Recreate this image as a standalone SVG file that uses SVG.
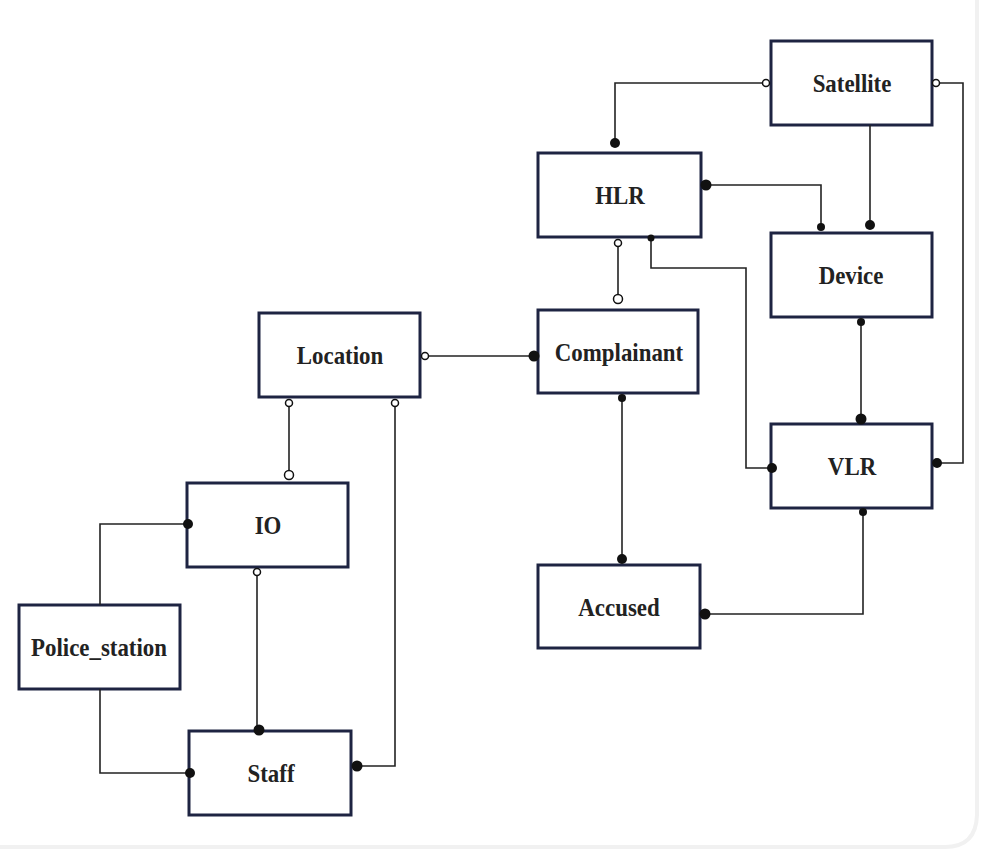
<svg xmlns="http://www.w3.org/2000/svg" width="983" height="854" viewBox="0 0 983 854">
<style>
.box{fill:#ffffff;stroke:#1e2442;stroke-width:3}
.lbl{font-family:"Liberation Serif","Times New Roman",serif;font-weight:bold;font-size:26px;fill:#222222;text-anchor:middle}
.ln{fill:none;stroke:#222222;stroke-width:1.6}
.dot{fill:#111111}
.oc{fill:#ffffff;stroke:#111111;stroke-width:1.5}
</style>
<rect x="0" y="0" width="983" height="854" fill="#ffffff"/>
<path d="M0 847 L945 847 Q976 847 977 815 L977 0" fill="none" stroke="#f1f1f1" stroke-width="4"/>
<g id="Satellite"><rect class="box" x="771" y="41" width="161" height="84"/><text class="lbl" transform="translate(852,92) scale(0.88,1)">Satellite</text></g>
<g id="HLR"><rect class="box" x="538" y="153" width="163" height="84"/><text class="lbl" transform="translate(620,204) scale(0.88,1)">HLR</text></g>
<g id="Device"><rect class="box" x="771" y="233" width="161" height="84"/><text class="lbl" transform="translate(851,284) scale(0.88,1)">Device</text></g>
<g id="VLR"><rect class="box" x="771" y="424" width="161" height="84"/><text class="lbl" transform="translate(852,475) scale(0.88,1)">VLR</text></g>
<g id="Location"><rect class="box" x="259" y="313" width="161" height="84"/><text class="lbl" transform="translate(340,364) scale(0.88,1)">Location</text></g>
<g id="Complainant"><rect class="box" x="538" y="310" width="160" height="83"/><text class="lbl" transform="translate(619,361) scale(0.88,1)">Complainant</text></g>
<g id="IO"><rect class="box" x="187" y="483" width="161" height="84"/><text class="lbl" transform="translate(268,534) scale(0.88,1)">IO</text></g>
<g id="Police_station"><rect class="box" x="19" y="605" width="161" height="84"/><text class="lbl" transform="translate(99,656) scale(0.88,1)">Police_station</text></g>
<g id="Staff"><rect class="box" x="189" y="731" width="162" height="84"/><text class="lbl" transform="translate(271,782) scale(0.88,1)">Staff</text></g>
<g id="Accused"><rect class="box" x="538" y="565" width="162" height="83"/><text class="lbl" transform="translate(619,616) scale(0.88,1)">Accused</text></g>
<g id="connectors">
<polyline class="ln" points="766,83 615,83 615,143"/>
<circle class="oc" cx="766" cy="83" r="3.5"/><circle class="dot" cx="615" cy="143" r="5"/>
<polyline class="ln" points="937,83 963,83 963,463 937,463"/>
<circle class="oc" cx="936" cy="83" r="3.5"/><circle class="dot" cx="937" cy="463" r="5"/>
<line class="ln" x1="870" y1="125" x2="870" y2="226"/>
<circle class="dot" cx="870" cy="225" r="5"/>
<polyline class="ln" points="706,185 821,185 821,228"/>
<circle class="dot" cx="706" cy="185" r="5.5"/><circle class="dot" cx="821" cy="227" r="4"/>
<line class="ln" x1="618" y1="243" x2="618" y2="299"/>
<circle class="oc" cx="618" cy="243" r="3.5"/><circle class="oc" cx="618" cy="299" r="4.5"/>
<polyline class="ln" points="651,237 651,268 746,268 746,468 771,468"/>
<circle class="dot" cx="651" cy="238" r="3.5"/><circle class="dot" cx="772" cy="468" r="5"/>
<line class="ln" x1="425" y1="356" x2="532" y2="356"/>
<circle class="oc" cx="425" cy="356" r="3.5"/><circle class="dot" cx="534" cy="356" r="5.5"/>
<line class="ln" x1="289" y1="403" x2="289" y2="471"/>
<circle class="oc" cx="289" cy="403" r="3.5"/><circle class="oc" cx="289" cy="475" r="4.5"/>
<polyline class="ln" points="395,403 395,766 356,766"/>
<circle class="oc" cx="395" cy="403" r="3.5"/><circle class="dot" cx="357" cy="766" r="5.5"/>
<line class="ln" x1="622" y1="398" x2="622" y2="558"/>
<circle class="dot" cx="622" cy="398" r="4"/><circle class="dot" cx="622" cy="559" r="5"/>
<line class="ln" x1="861" y1="322" x2="861" y2="418"/>
<circle class="dot" cx="861" cy="322" r="4"/><circle class="dot" cx="861" cy="419" r="5.5"/>
<polyline class="ln" points="863,513 863,614 706,614"/>
<circle class="dot" cx="863" cy="512" r="4"/><circle class="dot" cx="705" cy="614" r="5.5"/>
<polyline class="ln" points="187,524 100,524 100,605"/>
<circle class="dot" cx="188" cy="524" r="5"/>
<polyline class="ln" points="100,689 100,773 189,773"/>
<circle class="dot" cx="190" cy="773" r="5"/>
<line class="ln" x1="257" y1="572" x2="257" y2="726"/>
<circle class="oc" cx="257" cy="572" r="3.5"/><circle class="dot" cx="259" cy="730" r="5.5"/>
</g>
</svg>
